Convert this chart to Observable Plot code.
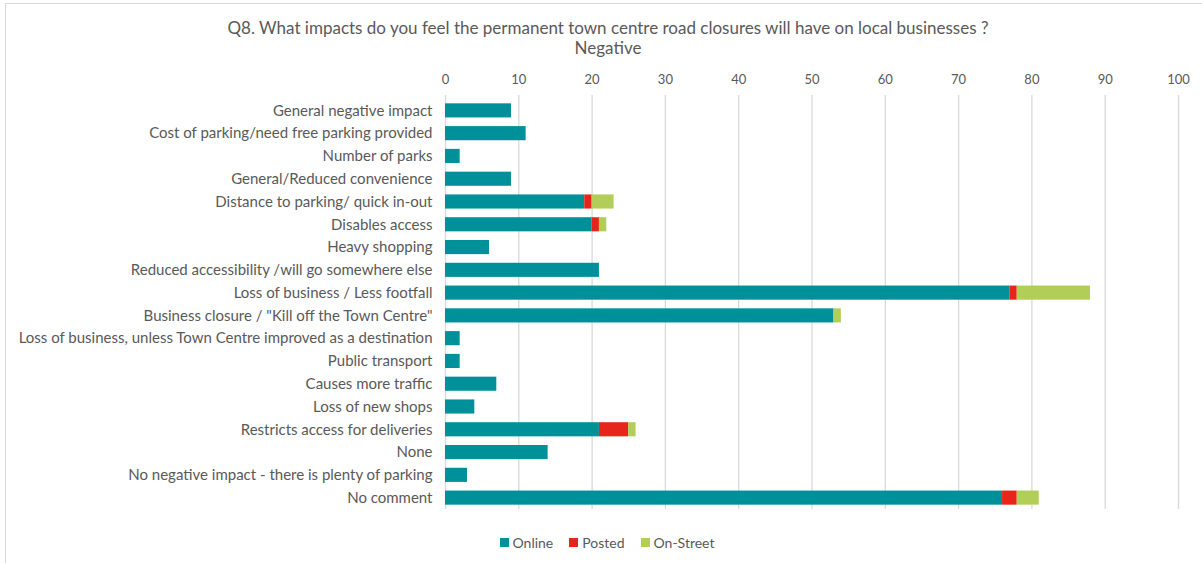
<!DOCTYPE html>
<html>
<head>
<meta charset="utf-8">
<script src="https://cdn.jsdelivr.net/npm/d3@7"></script>
<script src="https://cdn.jsdelivr.net/npm/@observablehq/plot@0.6"></script>
<style>
  body { margin: 0; background: #fff; font-family: Lato, "Open Sans", sans-serif; color: #595959; }
  #wrap { position: relative; width: 1202px; height: 563px; overflow: hidden; }
  #frame { position: absolute; left: 5px; top: 3px; width: 1210px; height: 570px; border: 1px solid #d9d9d9; box-sizing: border-box; pointer-events: none; }
  #title { text-align: center; font-size: 17px; line-height: 20px; padding-top: 18px; padding-left: 14px; color: #595959; height: 40px; }
  #chart { display: block; height: 462px; }
  #chart svg { display: block; }
  #legend { display: flex; justify-content: center; gap: 16px; font-size: 14px; margin-top: 14px; padding-left: 12px; }
  #legend span.item { display: inline-flex; align-items: center; }
  #legend span.sw { width: 9px; height: 9px; display: inline-block; margin-right: 4px; }
</style>
</head>
<body>
<div id="wrap">
  <div id="frame"></div>
  <div id="title">Q8. What impacts do you feel the permanent town centre road closures will have on local businesses ?<br>Negative</div>
  <div id="chart"></div>
  <div id="legend"></div>
</div>
<script>
const categories = [
  "General negative impact",
  "Cost of parking/need free parking provided",
  "Number of parks",
  "General/Reduced convenience",
  "Distance to parking/ quick in-out",
  "Disables access",
  "Heavy shopping",
  "Reduced accessibility /will go somewhere else",
  "Loss of business / Less footfall",
  "Business closure / \"Kill off the Town Centre\"",
  "Loss of business, unless Town Centre improved as a destination",
  "Public transport",
  "Causes more traffic",
  "Loss of new shops",
  "Restricts access for deliveries",
  "None",
  "No negative impact - there is plenty of parking",
  "No comment"
];
const online   = [9, 11, 2, 9, 19, 20, 6, 21, 77, 53, 2, 2, 7, 4, 21, 14, 3, 76];
const posted   = [0, 0, 0, 0, 1, 1, 0, 0, 1, 0, 0, 0, 0, 0, 4, 0, 0, 2];
const onStreet = [0, 0, 0, 0, 3, 1, 0, 0, 10, 1, 0, 0, 0, 0, 1, 0, 0, 3];
const seriesNames = ["Online", "Posted", "On-Street"];
const seriesColors = ["#00909a", "#e8251b", "#b2cd58"];
const xTicks = [0, 10, 20, 30, 40, 50, 60, 70, 80, 90, 100];

const seriesValues = [online, posted, onStreet];
const data = [];
seriesNames.forEach((s, si) => {
  categories.forEach((c, ci) => {
    data.push({category: c, series: s, value: seriesValues[si][ci]});
  });
});

const chart = Plot.plot({
  width: 1202,
  height: 462,
  marginLeft: 445,
  marginRight: 24,
  marginTop: 41,
  marginBottom: 11,
  style: {fontFamily: "Lato, 'Open Sans', sans-serif", fontSize: "14px", color: "#595959", background: "transparent"},
  x: {domain: [0, 100], ticks: xTicks, axis: null, label: null},
  y: {domain: categories, paddingInner: 0.38, paddingOuter: 0.19, round: false, axis: null, label: null},
  color: {domain: seriesNames, range: seriesColors},
  marks: [
    Plot.ruleX(xTicks, {stroke: "#d9d9d9", strokeWidth: 1.3, insetTop: -4}),
    Plot.barX(data, Plot.stackX({x: "value", y: "category", fill: "series", order: seriesNames})),
    Plot.axisX(xTicks, {anchor: "top", tickSize: 0, tickPadding: 16, fontSize: 13, fill: "#595959", label: null}),
    Plot.axisY(categories, {anchor: "left", tickSize: 0, tickPadding: 13, fontSize: 15, fill: "#595959", label: null})
  ]
});
document.getElementById("chart").appendChild(chart);

const legend = document.getElementById("legend");
seriesNames.forEach((s, i) => {
  const item = document.createElement("span");
  item.className = "item";
  const sw = document.createElement("span");
  sw.className = "sw";
  sw.style.background = seriesColors[i];
  item.appendChild(sw);
  item.appendChild(document.createTextNode(s));
  legend.appendChild(item);
});
</script>
</body>
</html>
